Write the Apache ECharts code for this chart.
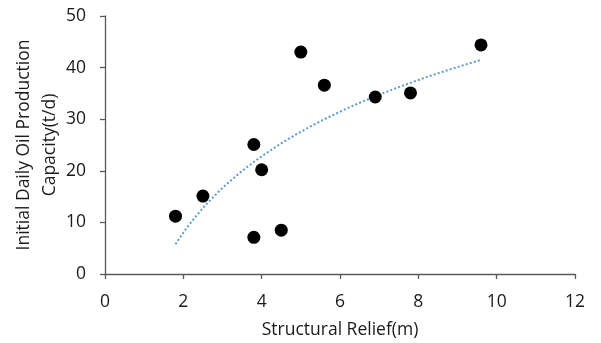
<!DOCTYPE html>
<html><head><meta charset="utf-8">
<script src="https://cdn.jsdelivr.net/npm/echarts@6/dist/echarts.min.js"></script>
<style>html,body{margin:0;padding:0;background:#fff}#c{width:601px;height:343px}</style>
</head><body><div id="c"></div>
<script>
// Data
const reliefX = [1.8, 2.5, 3.8, 4.0, 3.8, 4.5, 5.0, 5.6, 6.9, 7.8, 9.6];
const capacityY = [11.2, 15.1, 25.1, 20.2, 7.1, 8.5, 43.0, 36.6, 34.3, 35.1, 44.4];
const xTitle = 'Structural Relief(m)';
const yTitle = 'Initial Daily Oil Production\nCapacity(t/d)';

// Logarithmic trendline fitted (least squares) to the scatter data
const n = reliefX.length;
const lx = reliefX.map(Math.log);
const mx = lx.reduce((a, b) => a + b, 0) / n;
const my = capacityY.reduce((a, b) => a + b, 0) / n;
let sxy = 0, sxx = 0;
for (let i = 0; i < n; i++) { sxy += (lx[i] - mx) * (capacityY[i] - my); sxx += (lx[i] - mx) ** 2; }
const slope = sxy / sxx, icpt = my - slope * mx;
const xmin = Math.min(...reliefX), xmax = Math.max(...reliefX);
const trend = [];
for (let k = 0; k <= 80; k++) { const x = xmin + (xmax - xmin) * k / 80; trend.push([x, slope * Math.log(x) + icpt]); }

const pts = reliefX.map((x, i) => [x, capacityY[i]]);
const font = '"Open Sans", sans-serif';
const fs = 17.5;
const tc = '#1a1a1a';
const chart = echarts.init(document.getElementById('c'));
chart.setOption({
  animation: false,
  grid: { left: 105, right: 26, top: 16, bottom: 69, containLabel: false, outerBoundsMode: 'none' },
  xAxis: {
    type: 'value', min: 0, max: 12, interval: 2,
    name: xTitle, nameLocation: 'middle', nameGap: 47, nameMoveOverlap: false,
    nameTextStyle: { fontFamily: font, fontSize: fs, color: tc },
    axisLine: { show: true, lineStyle: { color: '#595959', width: 1.3 } },
    axisTick: { show: true, length: 5, lineStyle: { color: '#595959', width: 1.3 } },
    axisLabel: { fontFamily: font, fontSize: fs, color: tc, margin: 19 },
    splitLine: { show: false }
  },
  yAxis: {
    type: 'value', min: 0, max: 50, interval: 10,
    name: yTitle, nameLocation: 'middle', nameGap: 42, nameRotate: 90, nameMoveOverlap: false,
    nameTextStyle: { fontFamily: font, fontSize: fs, color: tc, lineHeight: 26 },
    axisLine: { show: true, lineStyle: { color: '#595959', width: 1.3 } },
    axisTick: { show: true, length: 5, lineStyle: { color: '#595959', width: 1.3 } },
    axisLabel: { fontFamily: font, fontSize: fs, color: tc, margin: 19 },
    splitLine: { show: false }
  },
  series: [
    { type: 'line', data: trend, showSymbol: false, symbol: 'none', smooth: false, z: 1,
      lineStyle: { color: '#5B9BD5', width: 2, type: [2, 2.2], cap: 'butt' } },
    { type: 'scatter', data: pts, symbol: 'circle', symbolSize: 13, z: 2,
      itemStyle: { color: '#000000', opacity: 1 } }
  ]
});
</script></body></html>
